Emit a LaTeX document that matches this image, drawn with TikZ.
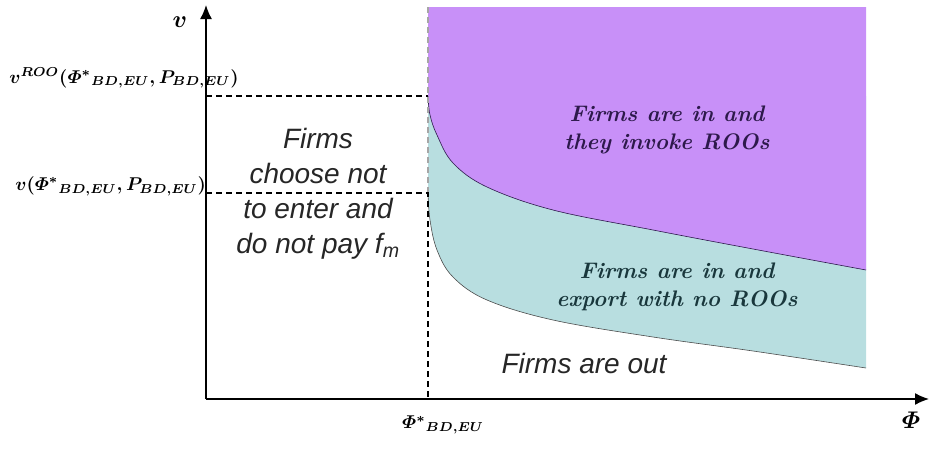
\documentclass[tikz,border=0pt]{standalone}
\usepackage{amsmath}
\usepackage{fontspec}
\setsansfont{Liberation Sans}
\usetikzlibrary{arrows.meta}
\definecolor{rooviolet}{RGB}{200,144,248}
\definecolor{noroocyan}{RGB}{184,222,224}
\definecolor{violettext}{RGB}{45,25,75}
\definecolor{cyantext}{RGB}{25,55,60}
\tikzset{
	axis/.style={line width=1.5pt, -{Latex[length=14pt,width=12pt]}},
	cut/.style={line width=1.5pt, dash pattern=on 6pt off 4pt},
	bound/.style={line width=0.6pt},
	region/.style={font=\sffamily\itshape\fontsize{28}{35}\selectfont, text=black!85, align=center, inner sep=0pt},
	zone/.style={font=\bfseries\itshape\fontsize{22.5}{28}\selectfont, align=center, inner sep=0pt},
	mlabel/.style={font=\boldmath\normalsize, inner sep=0pt, scale=1.85, transform shape},
	axlabel/.style={mlabel, scale=1.3}
}
\begin{document}
\begin{tikzpicture}[x=1pt, y=-1pt]
			%%%%% START %%%%%
			\useasboundingbox (0, 0) rectangle (929, 448);
			
			% regions
			\fill[noroocyan] (428, 96) -- (428, 193) -- plot[smooth, tension=0.6] coordinates {(428, 193) (430, 220) (437, 250) (453, 277) (487, 300) (553, 320) (653, 337) (753, 351) (866, 368)} -- (866, 96) -- cycle;
			\fill[rooviolet] (428, 7) -- (428, 96) -- plot[smooth, tension=0.6] coordinates {(428, 96) (430, 115) (437, 135) (453, 163) (487, 187) (553, 210) (653, 230) (753, 249) (866, 270)} -- (866, 7) -- cycle;
			
			\draw[bound, violettext] plot[smooth, tension=0.6] coordinates {(428, 96) (430, 115) (437, 135) (453, 163) (487, 187) (553, 210) (653, 230) (753, 249) (866, 270)};
			\draw[bound, black!70] plot[smooth, tension=0.6] coordinates {(428, 193) (430, 220) (437, 250) (453, 277) (487, 300) (553, 320) (653, 337) (753, 351) (866, 368)};
			
			% cut-offs
			\coordinate (top) at (428, 7);
			\coordinate (vroo) at (206, 96);
			\coordinate (vroocut) at (428, 96);
			\coordinate (vno) at (206, 193);
			\coordinate (vnocut) at (428, 193);
			\coordinate (phicut) at (428, 399);
			
			\draw[cut, black!35] (vnocut) -- (top);
			\draw[cut] (vroo) -- (vroocut);
			\draw[cut] (vno) -- (vnocut) -- (phicut);
			
			% axes
			\coordinate (origin) at (206, 399);
			\draw[axis] (origin) -- (206, 5);
			\draw[axis] (origin) -- (929, 399);
			
			\node[axlabel] (vname) at (180, 22) {$v$};
			\node[axlabel] (phiname) at (911, 420) {$\varPhi$};
			\node[mlabel] (phistar) at (443, 425) {$\varPhi^{*}{}_{BD,EU}$};
			\node[mlabel, anchor=west] (vroolabel) at (9, 78) {$v^{ROO}(\varPhi^{*}{}_{BD,EU},P_{BD,EU})$};
			\node[mlabel, anchor=west] (vnolabel) at (15, 186) {$v(\varPhi^{*}{}_{BD,EU},P_{BD,EU})$};
			
			% texts
			\node[region] (stayout) at (318, 194) {Firms\\choose not\\to enter and\\do not pay f\textsubscript{m}};
			\node[region] (out) at (584, 363) {Firms are out};
			\node[zone, text=violettext] (invoke) at (667, 130) {Firms are in and\\they invoke ROOs};
			\node[zone, text=cyantext] (noroo) at (677, 287) {Firms are in and\\export with no ROOs};
			
			%%%%% END %%%%%
		\end{tikzpicture}
\end{document}
